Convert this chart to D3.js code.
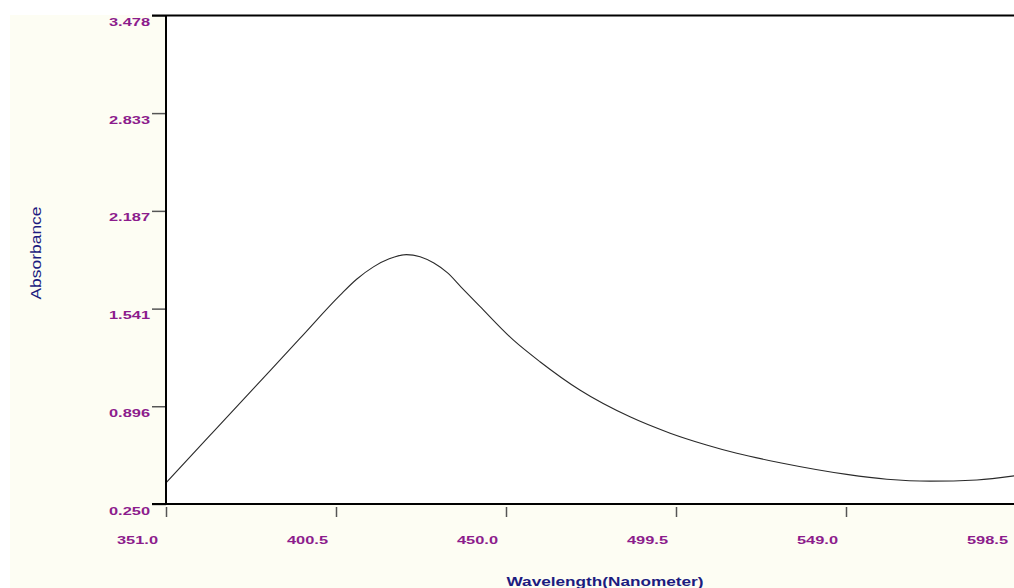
<!DOCTYPE html>
<html>
<head>
<meta charset="utf-8">
<script src="https://cdn.jsdelivr.net/npm/d3@7"></script>
<style>
  html, body { margin: 0; padding: 0; background: #ffffff; overflow: hidden; }
  svg { display: block; }
</style>
</head>
<body>
<div id="chart"></div>
<script>
// Absorbance spectrum
const wavelengths = [351, 364, 377, 390, 401.7, 406.5, 411.4, 416, 421, 425, 429, 433, 437,
    442.4, 452.1, 459.9, 471.5, 486.1, 497.8, 508.4, 517.2, 529.8, 549.2, 560.9, 573.5, 587.1, 598.5];
const absorbance = [0.39, 0.708, 1.026, 1.344, 1.63, 1.735, 1.817, 1.870, 1.898, 1.884, 1.842, 1.777, 1.682,
    1.556, 1.334, 1.190, 1.003, 0.826, 0.718, 0.640, 0.585, 0.523, 0.446, 0.414, 0.401, 0.409, 0.438];

const xTicks = [351.0, 400.5, 450.0, 499.5, 549.0, 598.5];
const yTicks = [0.250, 0.896, 1.541, 2.187, 2.833, 3.478];

const xTitle = 'Wavelength(Nanometer)';
const yTitle = 'Absorbance';

const width = 1014;
const height = 588;
const plotLeft = 166, plotTop = 15.5, plotBottom = 504;

const svg = d3.select('#chart')
    .append('svg')
    .attr('width', width)
    .attr('height', height);

// cream surround, white plot area
svg.append('rect')
    .attr('x', 10).attr('y', 15)
    .attr('width', width - 10).attr('height', height - 15)
    .attr('fill', '#fdfdf3');
svg.append('rect')
    .attr('x', plotLeft).attr('y', plotTop)
    .attr('width', width - plotLeft).attr('height', plotBottom - plotTop)
    .attr('fill', '#ffffff');

const x = d3.scaleLinear()
    .domain([351, 598.5])
    .range([plotLeft, plotLeft + 247.5 * 170 / 49.5]);

const y = d3.scaleLinear()
    .domain([0.25, 3.478])
    .range([plotBottom, plotTop]);

svg.append('defs').append('clipPath')
    .attr('id', 'plot-clip')
    .append('rect')
    .attr('x', plotLeft).attr('y', plotTop)
    .attr('width', width - plotLeft).attr('height', plotBottom - plotTop);

// the curve
const points = wavelengths.map((w, i) => ({ w: w, a: absorbance[i] }));
const line = d3.line()
    .x(d => x(d.w))
    .y(d => y(d.a))
    .curve(d3.curveMonotoneX);

svg.append('path')
    .datum(points)
    .attr('clip-path', 'url(#plot-clip)')
    .attr('d', line)
    .attr('fill', 'none')
    .attr('stroke', '#2a2a2a')
    .attr('stroke-width', 1.1);

// y axis ticks + labels
const yAxis = svg.append('g')
    .attr('transform', `translate(${plotLeft},0)`)
    .call(d3.axisLeft(y)
        .tickValues(yTicks)
        .tickSize(14)
        .tickPadding(2)
        .tickFormat(d3.format('.3f')));
yAxis.select('.domain').remove();
yAxis.selectAll('.tick line').attr('stroke', '#555555').attr('stroke-width', 1.5);
yAxis.selectAll('.tick text')
    .attr('x', -16)
    .attr('dy', 10)
    .attr('fill', '#8c1c8c')
    .attr('font-family', 'Liberation Sans, Arial, sans-serif')
    .attr('font-weight', 'bold')
    .attr('font-size', '11.5px')
    .attr('textLength', 41)
    .attr('lengthAdjust', 'spacingAndGlyphs');

// x axis ticks + labels (sitting a little below the axis line)
const xAxis = svg.append('g')
    .attr('transform', `translate(0,${plotBottom + 3})`)
    .call(d3.axisBottom(x)
        .tickValues(xTicks)
        .tickSize(10)
        .tickFormat(d3.format('.1f')));
xAxis.select('.domain').remove();
xAxis.selectAll('.tick line').attr('stroke', '#555555').attr('stroke-width', 1.5);
xAxis.selectAll('.tick text')
    .attr('x', -29)
    .attr('y', 37)
    .attr('dy', 0)
    .attr('fill', '#8c1c8c')
    .attr('font-family', 'Liberation Sans, Arial, sans-serif')
    .attr('font-weight', 'bold')
    .attr('font-size', '11.5px')
    .attr('textLength', 41)
    .attr('lengthAdjust', 'spacingAndGlyphs');

// frame lines
svg.append('line')
    .attr('x1', 152).attr('x2', width)
    .attr('y1', plotTop).attr('y2', plotTop)
    .attr('stroke', '#000').attr('stroke-width', 2);
svg.append('line')
    .attr('x1', 152).attr('x2', width)
    .attr('y1', plotBottom).attr('y2', plotBottom)
    .attr('stroke', '#000').attr('stroke-width', 2);
svg.append('line')
    .attr('x1', plotLeft).attr('x2', plotLeft)
    .attr('y1', plotTop).attr('y2', plotBottom)
    .attr('stroke', '#000').attr('stroke-width', 2);

// axis titles
svg.append('text')
    .attr('x', 605)
    .attr('y', 586)
    .attr('text-anchor', 'middle')
    .attr('fill', '#1c1c80')
    .attr('font-family', 'Liberation Sans, Arial, sans-serif')
    .attr('font-weight', 'bold')
    .attr('font-size', '12.5px')
    .attr('textLength', 197)
    .attr('lengthAdjust', 'spacingAndGlyphs')
    .text(xTitle);

svg.append('text')
    .attr('transform', 'translate(41,253) rotate(-90)')
    .attr('text-anchor', 'middle')
    .attr('fill', '#1c1c80')
    .attr('font-family', 'Liberation Sans, Arial, sans-serif')
    .attr('font-size', '15px')
    .attr('textLength', 93)
    .attr('lengthAdjust', 'spacingAndGlyphs')
    .text(yTitle);
</script>
</body>
</html>
